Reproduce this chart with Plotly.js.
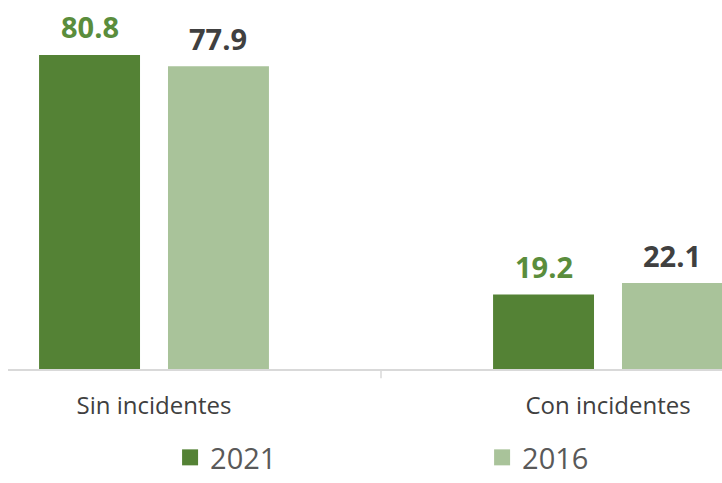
<!DOCTYPE html>
<html><head><meta charset="utf-8">
<script src="https://cdn.plot.ly/plotly-3.0.1.min.js"></script>
<style>html,body{margin:0;padding:0;background:#fff}#chart{width:722px;height:483px}</style>
</head><body><div id="chart"></div>
<script>
var categories = ["Sin incidentes", "Con incidentes"];
var seriesNames = ["2021", "2016"];
var values2021 = [80.8, 19.2];
var values2016 = [77.9, 22.1];
var colors = ["#548235", "#a9c39a"];
var labelColors = ["#5a8d3c", "#404040"];

var series = [values2021, values2016];
var legendIds = ["legend", "legend2"];
var traces = [];
series.forEach(function (vals, s) {
  traces.push({
    type: "bar", x: [0, 1], y: vals, name: seriesNames[s],
    marker: {color: colors[s]}, showlegend: false, hoverinfo: "skip"
  });
});
series.forEach(function (vals, s) {
  traces.push({
    type: "scatter", mode: "markers", x: [null], y: [null], name: seriesNames[s],
    legend: legendIds[s],
    marker: {symbol: "square", size: 16, color: colors[s]}, hoverinfo: "skip"
  });
});

var bargap = 0.432, bargroupgap = 0.217;
var slot = (1 - bargap) / 2;
var annotations = [];
series.forEach(function (vals, s) {
  vals.forEach(function (v, i) {
    annotations.push({
      x: i + (s === 0 ? -slot / 2 : slot / 2), y: v, xref: "x", yref: "y",
      text: v.toFixed(1), showarrow: false, yanchor: "middle", yshift: 28,
      font: {family: "Open Sans", size: 29, color: labelColors[s], weight: "bold"}
    });
  });
});

var legendFont = {family: "Open Sans", size: 29, color: "#595959"};
var layout = {
  width: 722, height: 483,
  margin: {l: 8, r: 0, t: 0, b: 114, autoexpand: false},
  paper_bgcolor: "#fff", plot_bgcolor: "#fff",
  barmode: "group", bargap: bargap, bargroupgap: bargroupgap,
  showlegend: true,
  xaxis: {
    type: "linear", range: [-0.3216, 1.2511],
    tickmode: "array", tickvals: [0, 1], ticktext: categories,
    ticks: "", showgrid: false, zeroline: false,
    showline: true, linecolor: "#d9d9d9", linewidth: 1.5,
    tickfont: {family: "Open Sans", size: 24, color: "#404040"},
    ticklabelstandoff: 15
  },
  yaxis: {range: [0, 94.95], visible: false, fixedrange: true},
  shapes: [{
    type: "line", xref: "x", yref: "paper", x0: 0.5, x1: 0.5, y0: 0, y1: -0.025,
    line: {color: "#d9d9d9", width: 1.5}
  }],
  annotations: annotations,
  legend: {
    orientation: "h", x: 0.227, xanchor: "left", yref: "container", y: -0.009, yanchor: "bottom",
    font: legendFont, itemclick: false, bgcolor: "rgba(0,0,0,0)"
  },
  legend2: {
    orientation: "h", x: 0.664, xanchor: "left", yref: "container", y: -0.009, yanchor: "bottom",
    font: legendFont, itemclick: false, bgcolor: "rgba(0,0,0,0)"
  }
};
Plotly.newPlot("chart", traces, layout, {displayModeBar: false, staticPlot: true});
</script></body></html>
